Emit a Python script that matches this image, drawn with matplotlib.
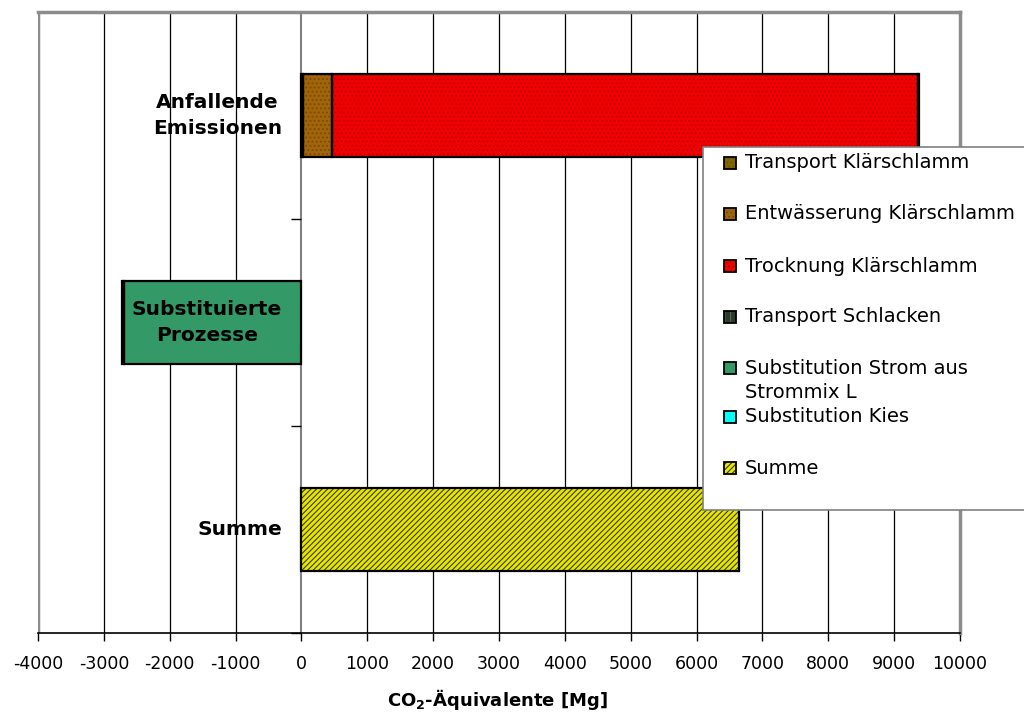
import numpy as np
import matplotlib.pyplot as plt
from matplotlib.patches import Rectangle

plt.rcParams['font.family'] = ['DejaVu Sans']
plt.rcParams['hatch.linewidth'] = 0.8

# categories (top to bottom)
categories = ['Anfallende\nEmissionen', 'Substituierte\nProzesse', 'Summe']

# CO2 equivalents per series and category [Mg]
transport_klaerschlamm = [20, 0, 0]
entwaesserung = [445, 0, 0]
trocknung = [8897, 0, 0]
transport_schlacken = [10, 0, 0]
substitution_strom = [0, -2700, 0]
substitution_kies = [0, -24, 0]
summe = [0, 0, 6648]

series_names = ['Transport Klärschlamm', 'Entwässerung Klärschlamm',
                'Trocknung Klärschlamm', 'Transport Schlacken',
                'Substitution Strom aus\nStrommix L', 'Substitution Kies', 'Summe']
series_values = [transport_klaerschlamm, entwaesserung, trocknung,
                 transport_schlacken, substitution_strom, substitution_kies, summe]

xticks = np.arange(-4000, 10001, 1000)
xtick_labels = [str(v) for v in xticks]

# fill colours, pattern colours and patterns
colors = ['#806600', '#a0650a', '#f00000', '#2b3a2b', '#339966', '#00ffff', '#e6e600']
hatch_colors = ['#6b5500', '#7a4a00', '#c00000', '#4d6b4d', '#339966', '#00ffff', '#3a3a00']
hatches = ['....', '....', '....', '|||', None, None, '//////']

W, H = 1024, 713
fig = plt.figure(figsize=(W / 100, H / 100), dpi=100)
ax = fig.add_axes([38 / W, 1 - 633 / H, (960 - 38) / W, (633 - 12) / H])

y = np.arange(len(categories))
pos_left = np.zeros(len(categories))
neg_left = np.zeros(len(categories))
for vals, c, hc, h in zip(series_values, colors, hatch_colors, hatches):
    vals = np.array(vals, dtype=float)
    left = np.where(vals >= 0, pos_left, neg_left)
    m = vals != 0
    if m.any():
        ax.barh(y[m], vals[m], left=left[m], height=0.4, color=c, hatch=h,
                edgecolor=hc, linewidth=0, zorder=2)
        ax.barh(y[m], vals[m], left=left[m], height=0.4, fill=False,
                edgecolor='black', linewidth=1.6, zorder=3)
    pos_left += np.where(vals > 0, vals, 0)
    neg_left += np.where(vals < 0, vals, 0)

ax.set_xlim(-4000, 10000)
ax.set_ylim(2.5, -0.5)

# vertical grid
for xv in xticks[1:-1]:
    if xv != 0:
        ax.axvline(xv, color='black', lw=0.9, zorder=0.5)
ax.axvline(-4000, color='#8c8c8c', lw=2.5, zorder=0.6)

ax.spines['top'].set_color('#8c8c8c')
ax.spines['top'].set_linewidth(2.5)
ax.spines['right'].set_color('#8c8c8c')
ax.spines['right'].set_linewidth(2.5)
ax.spines['left'].set_position(('data', 0))
ax.spines['left'].set_color('#808080')
ax.spines['left'].set_linewidth(1.5)
ax.spines['left'].set_zorder(1)
ax.spines['bottom'].set_color('black')
ax.spines['bottom'].set_linewidth(1.2)

ax.set_xticks(xticks, xtick_labels)
ax.set_yticks([-0.5, 0.5, 1.5, 2.5], ['', '', '', ''])
ax.tick_params(axis='x', direction='out', length=6, width=1, labelsize=12.5, pad=10)
ax.tick_params(axis='y', direction='out', length=7, width=1, color='black')

# category labels next to the zero line
for i, cat in enumerate(categories):
    ax.text(-295, i, cat, ha='right', va='center', multialignment='center',
            fontsize=14.5, fontweight='bold', linespacing=1.5, zorder=5)

fig.text(498 / W, 1 - 699 / H, r'CO$_\mathbf{2}$-Äquivalente [Mg]',
         ha='center', va='center', fontsize=13, fontweight='bold')

# legend box
fig.add_artist(Rectangle((703 / W, 1 - 510 / H), 340 / W, 363 / H,
                         transform=fig.transFigure, facecolor='white',
                         edgecolor='#808080', lw=1.2, zorder=10))
row_y = [163, 214, 266, 317, 368, 417, 468]
for name, ry, c, hc, h in zip(series_names, row_y, colors, hatch_colors, hatches):
    fig.add_artist(Rectangle((724 / W, 1 - (ry + 6) / H), 12 / W, 12 / H,
                             transform=fig.transFigure, facecolor=c, hatch=h,
                             edgecolor=hc, lw=0, zorder=11))
    fig.add_artist(Rectangle((724 / W, 1 - (ry + 6) / H), 12 / W, 12 / H,
                             transform=fig.transFigure, fill=False,
                             edgecolor='black', lw=1.3, zorder=12))
    ty = ry + 12.5 if '\n' in name else ry
    fig.text(745 / W, 1 - ty / H, name, ha='left', va='center', fontsize=14,
             linespacing=1.37, zorder=13)

fig.savefig('out.png', dpi=100)
